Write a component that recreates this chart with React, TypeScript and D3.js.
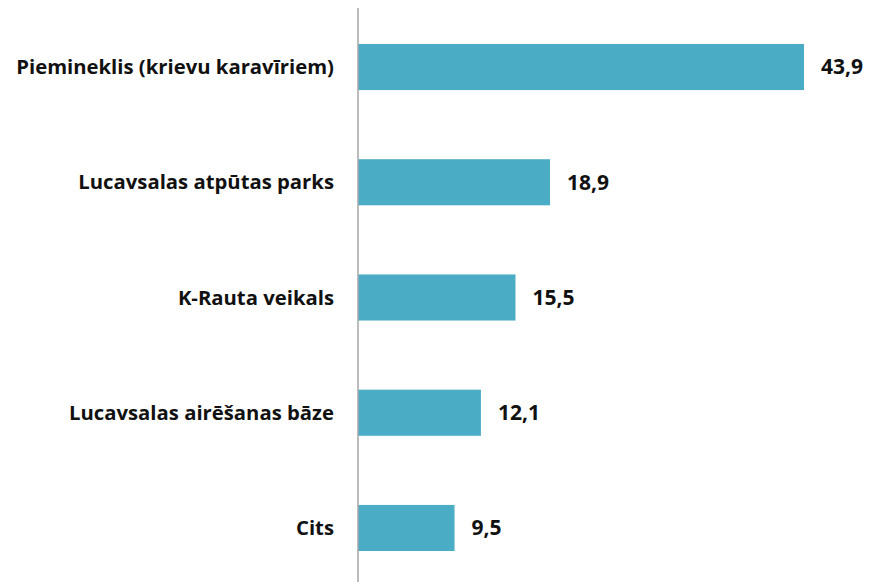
import { useEffect, useRef } from "react"
import * as d3 from "d3"

const categories = [
  "Piemineklis (krievu karavīriem)",
  "Lucavsalas atpūtas parks",
  "K-Rauta veikals",
  "Lucavsalas airēšanas bāze",
  "Cits",
]
const values = [43.9, 18.9, 15.5, 12.1, 9.5]

const WIDTH = 870
const HEIGHT = 582
const BAR_COLOR = "#4bacc6"
const FONT = "'Open Sans', Lato, sans-serif"

export default function App() {
  const svgRef = useRef<SVGSVGElement>(null)

  useEffect(() => {
    if (!svgRef.current) return
    const svg = d3.select(svgRef.current)
    svg.selectAll("*").remove()

    const axisX = 358
    const x = d3.scaleLinear().domain([0, 43.9]).range([axisX, 804])
    const y = d3
      .scaleBand<string>()
      .domain(categories)
      .range([9.4, 585.6])
      .paddingInner(0.6)
      .paddingOuter(0.3)

    const data = categories.map((c, i) => ({ name: c, value: values[i] }))

    svg
      .selectAll("rect.bar")
      .data(data)
      .enter()
      .append("rect")
      .attr("class", "bar")
      .attr("x", x(0))
      .attr("y", (d) => y(d.name)!)
      .attr("width", (d) => x(d.value) - x(0))
      .attr("height", y.bandwidth())
      .attr("fill", BAR_COLOR)

    // vertical axis line
    svg
      .append("line")
      .attr("x1", axisX)
      .attr("x2", axisX)
      .attr("y1", 8)
      .attr("y2", HEIGHT)
      .attr("stroke", "#a6a6a6")
      .attr("stroke-width", 1.5)

    // category labels
    svg
      .selectAll("text.cat")
      .data(data)
      .enter()
      .append("text")
      .attr("class", "cat")
      .attr("x", 334)
      .attr("y", (d) => y(d.name)! + y.bandwidth() / 2)
      .attr("dy", "0.35em")
      .attr("text-anchor", "end")
      .attr("font-family", FONT)
      .attr("font-weight", "bold")
      .attr("font-size", 20.3)
      .attr("fill", "#111")
      .text((d) => d.name)

    // value labels
    svg
      .selectAll("text.val")
      .data(data)
      .enter()
      .append("text")
      .attr("class", "val")
      .attr("x", (d) => x(d.value) + 17)
      .attr("y", (d) => y(d.name)! + y.bandwidth() / 2)
      .attr("dy", "0.35em")
      .attr("font-family", FONT)
      .attr("font-weight", "bold")
      .attr("font-size", 21)
      .attr("fill", "#111")
      .text((d) => d.value.toFixed(1).replace(".", ","))
  }, [])

  return (
    <svg
      ref={svgRef}
      width={WIDTH}
      height={HEIGHT}
      style={{ position: "absolute", left: 0, top: 0, background: "#fff" }}
    />
  )
}
